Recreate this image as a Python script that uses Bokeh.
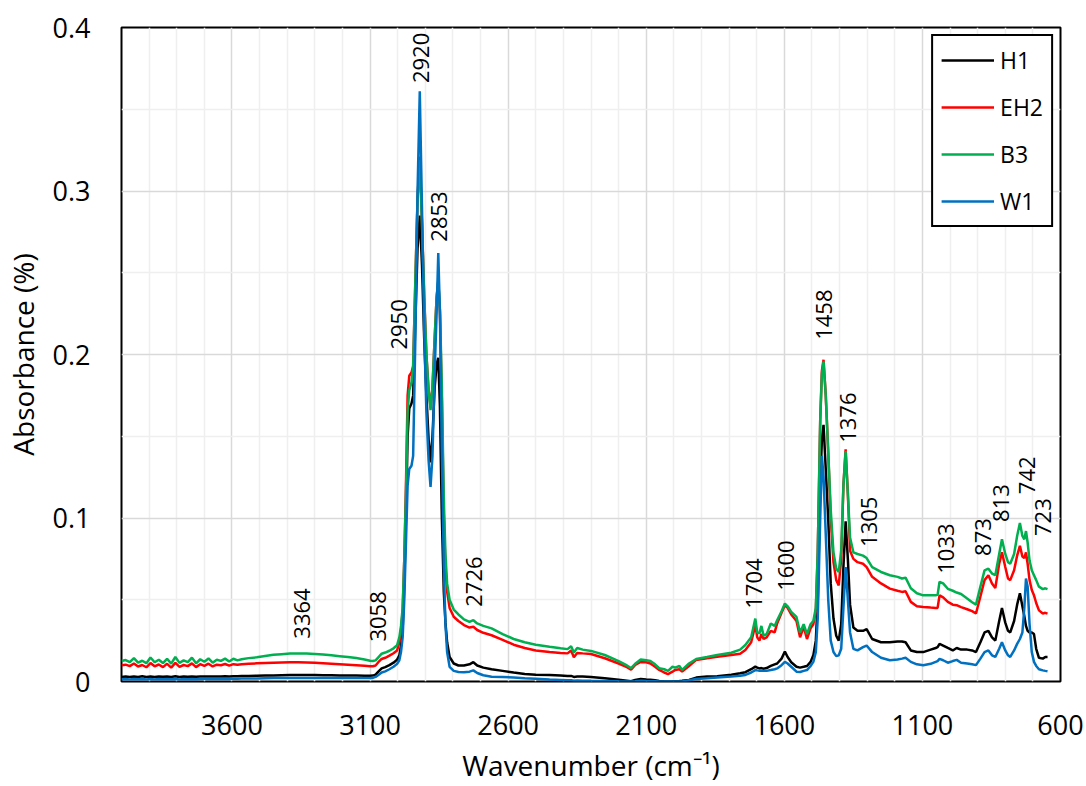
import math
from bokeh.plotting import figure
from bokeh.models import Range1d, FixedTicker, NumeralTickFormatter, Legend, LegendItem
from bokeh.embed import file_html
from bokeh.resources import INLINE
from bokeh.core.properties import value

# ---------------- data ----------------
wavenumber = [
    4000, 3985, 3970, 3955, 3940, 3925, 3910, 3895, 3880, 3865, 3850, 3835, 3820, 3805, 3790,
    3775, 3760, 3745, 3730, 3715, 3700, 3685, 3670, 3655, 3640, 3625, 3610, 3595, 3580, 3565,
    3540, 3510, 3480, 3450, 3420, 3390, 3360, 3330, 3300, 3270, 3240, 3210, 3180, 3150, 3120,
    3100, 3090, 3080, 3070, 3058, 3045, 3030, 3015, 3002,
    2994, 2988, 2982, 2976, 2970, 2964, 2958, 2950, 2944, 2936, 2928, 2920, 2912, 2904, 2896,
    2888, 2881, 2874, 2866, 2859, 2853, 2847, 2840, 2833, 2827, 2821, 2812, 2797,
    2780, 2760, 2740, 2726, 2712, 2690, 2660, 2620, 2580, 2540, 2500, 2450, 2410, 2385, 2372,
    2362, 2350, 2330, 2300, 2250, 2200, 2170, 2155, 2140, 2120, 2100,
    2085, 2068, 2053, 2035, 2021, 2005, 1995, 1980, 1970, 1945, 1919, 1880, 1843, 1792, 1760,
    1741, 1720, 1705, 1698, 1690, 1683, 1675, 1664, 1649, 1635, 1626, 1610, 1598, 1588, 1575,
    1556, 1543, 1530, 1518, 1505, 1495, 1486,
    1479, 1470, 1464, 1458, 1450, 1441, 1432, 1422, 1412, 1403, 1394, 1386, 1378, 1370, 1362,
    1350, 1335, 1315, 1302,
    1282, 1250, 1218, 1190, 1174, 1161, 1142, 1120, 1097, 1070, 1052, 1045, 1038, 1025, 1008,
    990, 976, 960, 938, 920, 906, 890, 875, 861, 848, 836, 822, 812, 800, 790,
    782, 768, 757, 747, 738, 731, 725, 719, 712, 704, 696, 688, 678, 664, 655, 647,
]

h1 = [
    0.0028, 0.0030, 0.0027, 0.0031, 0.0028, 0.0032, 0.0028, 0.0030, 0.0027, 0.0031, 0.0029, 0.0030, 0.0028, 0.0032, 0.0028,
    0.0031, 0.0029, 0.0031, 0.0029, 0.0030, 0.0030, 0.0031, 0.0030, 0.0031, 0.0030, 0.0032, 0.0031, 0.0032, 0.0032, 0.0033,
    0.0034, 0.0035, 0.0036, 0.0037, 0.0038, 0.0039, 0.0039, 0.0039, 0.0039, 0.0038, 0.0038, 0.0037, 0.0037, 0.0036, 0.0035,
    0.0035, 0.0036, 0.0042, 0.0060, 0.0080, 0.0088, 0.0100, 0.0115, 0.0134,
    0.016, 0.022, 0.032, 0.06, 0.10, 0.15, 0.167, 0.17, 0.175, 0.22, 0.265, 0.285, 0.255, 0.21, 0.175,
    0.148, 0.134, 0.15, 0.18, 0.194, 0.198, 0.168, 0.10, 0.055, 0.036, 0.024, 0.015, 0.011,
    0.0098, 0.0098, 0.0105, 0.0118, 0.0098, 0.0085, 0.0075, 0.0065, 0.0055, 0.0046, 0.0042, 0.004, 0.0036, 0.0033, 0.0034,
    0.0028, 0.0031, 0.003, 0.0027, 0.002, 0.0011, 0.0005, 0.0002, 0.0009, 0.0016, 0.0012,
    0.001, 0.0007, 0.0003, 0.0001, 0.0, 0.0001, 0.0002, 0.0003, 0.0004, 0.001, 0.0024, 0.003, 0.0032, 0.0041, 0.005,
    0.0057, 0.0075, 0.0091, 0.0085, 0.008, 0.0082, 0.0078, 0.0082, 0.0095, 0.0105, 0.011, 0.014, 0.0183, 0.015, 0.0118,
    0.009, 0.0085, 0.009, 0.0095, 0.012, 0.016, 0.025,
    0.049, 0.12, 0.148, 0.157, 0.13, 0.099, 0.06, 0.0385, 0.028, 0.025, 0.035, 0.07, 0.098, 0.075, 0.047,
    0.033, 0.031, 0.031, 0.032,
    0.026, 0.024, 0.024, 0.0245, 0.0245, 0.024, 0.019, 0.018, 0.018, 0.0195, 0.0205, 0.021, 0.023, 0.022, 0.0205,
    0.019, 0.0205, 0.0195, 0.0195, 0.019, 0.018, 0.024, 0.030, 0.031, 0.027, 0.025, 0.037, 0.045, 0.036, 0.031,
    0.030, 0.037, 0.047, 0.054, 0.046, 0.040, 0.034, 0.031, 0.030, 0.030, 0.029, 0.020, 0.0145, 0.014, 0.015, 0.015,
]

eh2 = [
    0.0100, 0.0103, 0.0094, 0.0110, 0.0092, 0.0101, 0.0087, 0.0113, 0.0093, 0.0104, 0.0088, 0.0108, 0.0085, 0.0114, 0.0090,
    0.0101, 0.0094, 0.0111, 0.0088, 0.0106, 0.0095, 0.0109, 0.0092, 0.0103, 0.0099, 0.0107, 0.0097, 0.0106, 0.0102, 0.0105,
    0.0108, 0.0111, 0.0113, 0.0115, 0.0116, 0.0117, 0.0117, 0.0116, 0.0114, 0.0112, 0.0109, 0.0106, 0.0103, 0.0100, 0.0096,
    0.0093, 0.0093, 0.0098, 0.0118, 0.0138, 0.0145, 0.0158, 0.0173, 0.0190,
    0.024, 0.031, 0.043, 0.075, 0.12, 0.175, 0.187, 0.189, 0.193, 0.245, 0.296, 0.321, 0.281, 0.236, 0.20,
    0.178, 0.168, 0.18, 0.21, 0.235, 0.245, 0.226, 0.172, 0.102, 0.07, 0.055, 0.045, 0.0396,
    0.037, 0.0345, 0.033, 0.0335, 0.0315, 0.0298, 0.0283, 0.0255, 0.0225, 0.0205, 0.019, 0.018, 0.0175, 0.0172, 0.019,
    0.0148, 0.0175, 0.0172, 0.0168, 0.0142, 0.011, 0.0088, 0.0072, 0.0102, 0.012, 0.0118,
    0.011, 0.009, 0.0071, 0.0055, 0.0045, 0.006, 0.0071, 0.0075, 0.0061, 0.0095, 0.0132, 0.0142, 0.0152, 0.0162, 0.017,
    0.0193, 0.024, 0.0345, 0.027, 0.025, 0.029, 0.026, 0.027, 0.031, 0.030, 0.0355, 0.042, 0.0467, 0.045, 0.041,
    0.037, 0.027, 0.0335, 0.026, 0.0325, 0.035, 0.043,
    0.079, 0.16, 0.19, 0.1968, 0.175, 0.14, 0.10, 0.073, 0.062, 0.0588, 0.075, 0.12, 0.142, 0.115, 0.08,
    0.075, 0.073, 0.072, 0.070,
    0.064, 0.060, 0.0568, 0.0555, 0.0548, 0.0552, 0.0487, 0.046, 0.0456, 0.0452, 0.045, 0.045, 0.0527, 0.0515, 0.0487,
    0.047, 0.0467, 0.0455, 0.0442, 0.043, 0.0416, 0.052, 0.062, 0.065, 0.060, 0.0572, 0.072, 0.079, 0.070, 0.063,
    0.062, 0.068, 0.077, 0.083, 0.0765, 0.0755, 0.079, 0.072, 0.062, 0.056, 0.0527, 0.048, 0.0435, 0.0416, 0.042, 0.0415,
]

b3 = [
    0.0125, 0.0131, 0.0119, 0.0143, 0.0116, 0.0127, 0.0112, 0.0147, 0.0118, 0.0133, 0.0113, 0.0139, 0.0109, 0.0150, 0.0114,
    0.0129, 0.0118, 0.0146, 0.0111, 0.0136, 0.0121, 0.0141, 0.0115, 0.0133, 0.0126, 0.0140, 0.0122, 0.0139, 0.0129, 0.0136,
    0.0143, 0.0148, 0.0156, 0.0163, 0.0167, 0.0171, 0.0172, 0.0171, 0.0168, 0.0165, 0.0160, 0.0155, 0.0150, 0.0144, 0.0135,
    0.0127, 0.0125, 0.0129, 0.0148, 0.0170, 0.0177, 0.0188, 0.0203, 0.0222,
    0.027, 0.034, 0.045, 0.075, 0.115, 0.165, 0.178, 0.183, 0.192, 0.245, 0.295, 0.319, 0.28, 0.235, 0.20,
    0.178, 0.166, 0.18, 0.21, 0.235, 0.245, 0.228, 0.18, 0.112, 0.078, 0.06, 0.05, 0.044,
    0.041, 0.038, 0.0365, 0.0375, 0.0355, 0.034, 0.0325, 0.029, 0.026, 0.024, 0.0225, 0.0212, 0.0203, 0.0198, 0.0215,
    0.0178, 0.0205, 0.0195, 0.0187, 0.0162, 0.0125, 0.0098, 0.0082, 0.0108, 0.0135, 0.013,
    0.0126, 0.0105, 0.0081, 0.0075, 0.0065, 0.009, 0.0085, 0.0095, 0.0071, 0.011, 0.0138, 0.015, 0.0162, 0.0176, 0.0195,
    0.0223, 0.027, 0.0385, 0.030, 0.0294, 0.034, 0.028, 0.029, 0.0355, 0.034, 0.0375, 0.043, 0.0477, 0.046, 0.0426,
    0.0395, 0.030, 0.035, 0.029, 0.035, 0.037, 0.045,
    0.079, 0.16, 0.188, 0.1957, 0.175, 0.14, 0.105, 0.079, 0.069, 0.067, 0.08, 0.12, 0.141, 0.115, 0.088,
    0.079, 0.078, 0.077, 0.0755,
    0.070, 0.067, 0.065, 0.064, 0.063, 0.0635, 0.057, 0.054, 0.0527, 0.0527, 0.0527, 0.053, 0.061, 0.060, 0.0567,
    0.0555, 0.0544, 0.0535, 0.0507, 0.0485, 0.047, 0.058, 0.068, 0.069, 0.066, 0.065, 0.078, 0.087, 0.078, 0.073,
    0.072, 0.078, 0.089, 0.097, 0.089, 0.087, 0.092, 0.085, 0.074, 0.068, 0.065, 0.062, 0.058, 0.0565, 0.057, 0.0565,
]

w1 = [
    0.0014, 0.0015, 0.0013, 0.0016, 0.0014, 0.0016, 0.0013, 0.0015, 0.0013, 0.0016, 0.0014, 0.0015, 0.0014, 0.0016, 0.0013,
    0.0015, 0.0014, 0.0016, 0.0014, 0.0015, 0.0015, 0.0016, 0.0015, 0.0016, 0.0015, 0.0016, 0.0016, 0.0017, 0.0017, 0.0018,
    0.0018, 0.0019, 0.0020, 0.0021, 0.0021, 0.0022, 0.0022, 0.0022, 0.0022, 0.0022, 0.0022, 0.0022, 0.0022, 0.0022, 0.0021,
    0.0021, 0.0022, 0.0028, 0.0040, 0.0055, 0.0062, 0.0075, 0.0090, 0.0108,
    0.013, 0.018, 0.027, 0.05, 0.085, 0.12, 0.13, 0.132, 0.138, 0.21, 0.30, 0.361, 0.29, 0.215, 0.165,
    0.135, 0.119, 0.138, 0.19, 0.225, 0.262, 0.225, 0.14, 0.07, 0.035, 0.018, 0.009, 0.0065,
    0.0058, 0.0057, 0.006, 0.0068, 0.0052, 0.0038, 0.0029, 0.0028, 0.0025, 0.002, 0.0017, 0.0012, 0.0009, 0.0007, 0.0008,
    0.0005, 0.0006, 0.0005, 0.0004, 0.0003, 0.0001, 0.0, 0.0, 0.0002, 0.0005, 0.0003,
    0.0002, 0.0001, 0.0, 0.0, 0.0, 0.0, 0.0, 0.0, 0.0, 0.0008, 0.0016, 0.002, 0.0025, 0.003, 0.0035,
    0.004, 0.0055, 0.007, 0.0068, 0.0066, 0.0066, 0.0065, 0.0065, 0.007, 0.0075, 0.008, 0.010, 0.012, 0.011, 0.009,
    0.006, 0.0058, 0.0065, 0.007, 0.0095, 0.012, 0.018,
    0.0385, 0.10, 0.138, 0.125, 0.09, 0.05, 0.025, 0.018, 0.0155, 0.016, 0.02, 0.045, 0.07, 0.05, 0.03,
    0.02, 0.019, 0.021, 0.022,
    0.018, 0.0145, 0.013, 0.0135, 0.014, 0.0145, 0.012, 0.0105, 0.010, 0.0108, 0.012, 0.0125, 0.0138, 0.013, 0.0115,
    0.0125, 0.0132, 0.0115, 0.011, 0.0105, 0.010, 0.014, 0.018, 0.019, 0.016, 0.015, 0.020, 0.024, 0.019, 0.016,
    0.015, 0.019, 0.023, 0.026, 0.030, 0.045, 0.063, 0.058, 0.035, 0.018, 0.012, 0.0095, 0.0075, 0.0068, 0.0065, 0.0063,
]

series_names = ["H1", "EH2", "B3", "W1"]
series_values = [h1, eh2, b3, w1]
series_colors = ["#000000", "#FF0000", "#00B050", "#0070C0"]

x_ticks = [600, 1100, 1600, 2100, 2600, 3100, 3600]
x_minor = [w for w in range(700, 4000, 100) if w not in x_ticks]
y_ticks = [0, 0.1, 0.2, 0.3, 0.4]
y_minor = [0.05, 0.15, 0.25, 0.35]

peak_labels = ["3364", "3058", "2950", "2920", "2853", "2726", "1704", "1600",
               "1458", "1376", "1305", "1033", "873", "813", "742", "723"]
peak_label_x = [3348, 3073, 2994, 2914, 2849, 2722, 1709, 1594,
                1458, 1369, 1292, 1014, 880, 817, 721, 664]
peak_label_y = [0.0262, 0.0244, 0.203, 0.366, 0.269, 0.0457, 0.0445, 0.0555,
                0.209, 0.146, 0.0823, 0.0659, 0.0768, 0.0976, 0.1146, 0.089]

for name, vals in zip(series_names, series_values):
    if len(vals) != len(wavenumber):
        raise ValueError(f"{name}: {len(vals)} values vs {len(wavenumber)} wavenumbers")

# ---------------- figure ----------------
FONT = "Open Sans"
p = figure(width=1086, height=786, output_backend="svg", toolbar_location=None,
           x_range=Range1d(4000, 600), y_range=Range1d(0, 0.4),
           min_border_left=121, min_border_right=26, min_border_top=27, min_border_bottom=103,
           background_fill_color="white", border_fill_color="white")

p.outline_line_color = "black"
p.outline_line_width = 2

p.xaxis.ticker = FixedTicker(ticks=x_ticks, minor_ticks=x_minor)
p.yaxis.ticker = FixedTicker(ticks=y_ticks, minor_ticks=y_minor)
p.yaxis.formatter = NumeralTickFormatter(format="0.[0]")

for ax in (p.xaxis[0], p.yaxis[0]):
    ax.axis_line_color = None
    ax.major_tick_line_color = None
    ax.minor_tick_line_color = None
    ax.major_label_text_font = FONT
    ax.major_label_text_font_size = "27px"
    ax.major_label_text_color = "black"
    ax.axis_label_text_font = FONT
    ax.axis_label_text_font_size = "28px"
    ax.axis_label_text_font_style = "normal"
    ax.axis_label_text_color = "black"

p.xaxis.axis_label = "Wavenumber (cm\u207b\u00b9)"
p.yaxis.axis_label = "Absorbance (%)"
p.xaxis.major_label_standoff = 27
p.xaxis.axis_label_standoff = 8
p.yaxis.major_label_standoff = 25
p.yaxis.axis_label_standoff = 8

for g in (p.xgrid[0], p.ygrid[0]):
    g.grid_line_color = "#d9d9d9"
    g.grid_line_width = 1.5
    g.minor_grid_line_color = "#efefef"
    g.minor_grid_line_width = 1.5

renderers = []
for name, vals, col in zip(series_names, series_values, series_colors):
    r = p.line(wavenumber, vals, line_color=col, line_width=2.5)
    renderers.append(r)

p.text(x=peak_label_x, y=peak_label_y, text=peak_labels, angle=math.pi / 2,
       text_align="left", text_baseline="middle", text_font=value(FONT),
       text_font_size="22px", text_color="black")

legend = Legend(items=[LegendItem(label=n, renderers=[r]) for n, r in zip(series_names, renderers)],
                location="top_right")
legend.border_line_color = "black"
legend.border_line_width = 2
legend.border_line_alpha = 1
legend.background_fill_color = "white"
legend.background_fill_alpha = 1
legend.label_text_font = FONT
legend.label_text_font_size = "23px"
legend.label_text_color = "black"
legend.glyph_width = 53
legend.glyph_height = 20
legend.label_height = 20
legend.spacing = 15
legend.padding = 8
legend.margin = 7
legend.label_standoff = 6
p.add_layout(legend)

open("out.html", "w").write(file_html(p, INLINE))
